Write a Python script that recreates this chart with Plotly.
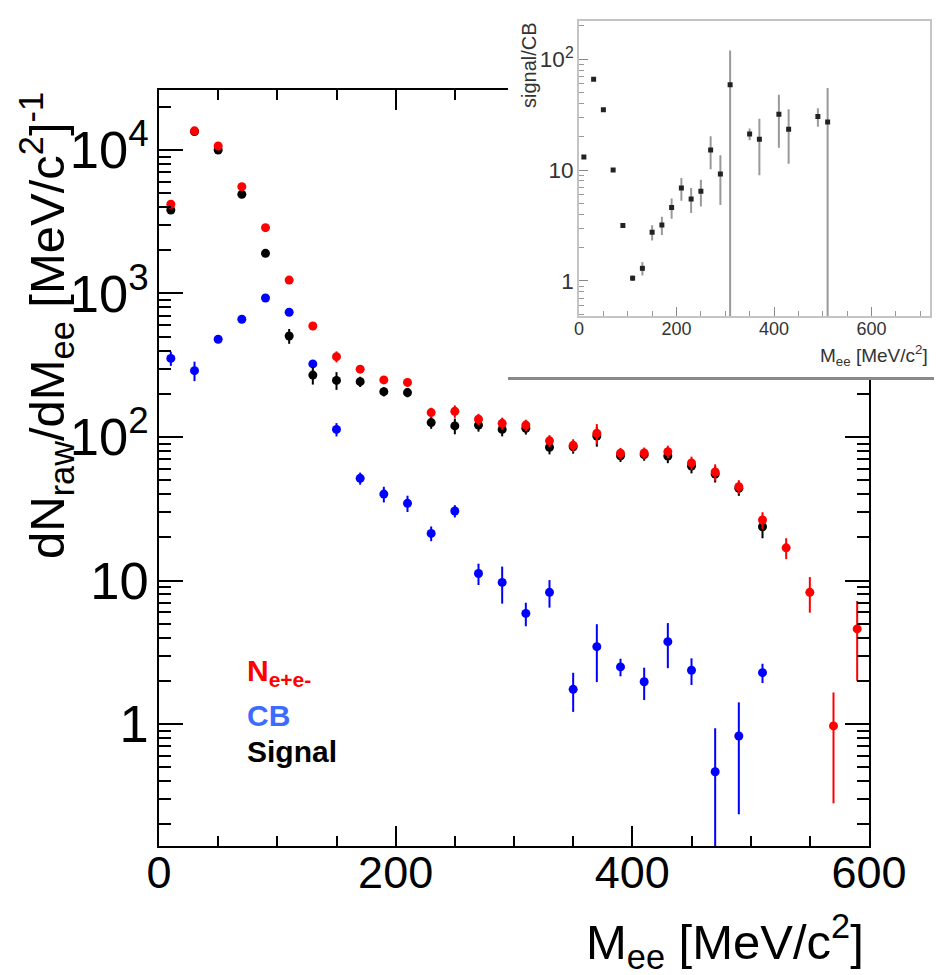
import plotly.graph_objects as go

# page body has an 8px margin, so the figure is drawn 8px in from the window edge
OFF = 8
W, H = 942 - OFF, 975 - OFF

# ---------------- data (main panel) ----------------
mass = [10, 30, 50, 70, 90, 110, 130, 150, 170, 190, 210, 230, 250, 270, 290,
        310, 330, 350, 370, 390, 410, 430, 450, 470, 490, 510, 530, 550, 570, 590]

n_ee = [4190, 13600, 10660, 5550, 2875, 1240, 594, 363, 297, 250, 240, 148, 151, 133, 124.5,
        121, 94, 87.5, 106, 77, 77.4, 79, 66, 57, 45, 26.4, 16.9, 8.27, 0.97, 4.6]
n_ee_err = [60, 120, 100, 75, 55, 35, 25, 32, 18, 16, 16, 12, 15, 12, 12,
            11, 9, 9, 17, 7, 7, 8, 7, 7.5, 5, 3.5, 2.8, 2.3, 0.69, 2.6]

mass_sig = mass[:26]
signal = [3820, 13430, 10000, 4910, 1905, 506, 270, 248, 243, 207, 204, 126, 119.5, 121, 113,
          115, 84.7, 85.5, 101.6, 74, 75.3, 73.7, 62.8, 55.2, 43.9, 23.7]
signal_err = [65, 120, 100, 80, 60, 60, 38, 35, 20, 15, 15, 12, 15, 12, 12,
              11, 9, 9, 16, 7, 7, 8, 7, 7, 5, 4]

mass_cb = mass[:26]
cb = [353, 290, 480, 661, 930, 740, 323, 113, 51.5, 40, 34.5, 21.3, 30.5, 11.2, 9.7,
      5.9, 8.27, 1.745, 3.46, 2.5, 1.97, 3.75, 2.37, 0.465, 0.825, 2.28]
cb_err = [40, 45, 20, 20, 25, 25, 20, 12, 5, 5, 4.5, 2.5, 3, 1.9, 2.8,
          1.1, 1.8, 0.53, 1.5, 0.35, 0.5, 1.3, 0.5, 0.47, 0.59, 0.35]

# ---------------- data (inset: signal/CB) ----------------
mass_ratio = [10, 30, 50, 70, 90, 110, 130, 150, 170, 190, 210, 230, 250, 270, 290,
              310, 350, 370, 410, 430, 490, 510]
ratio = [13.1, 66, 35, 10, 3.16, 1.06, 1.30, 2.75, 3.2, 4.6, 6.9, 5.5, 6.45, 15.2, 9.25,
         59, 21.2, 19, 31.9, 23.4, 30.4, 27.2]
ratio_err = [0.3, 1.5, 0.8, 0.2, 0.08, 0.06, 0.18, 0.43, 0.6, 0.95, 1.6, 1.4, 1.75, 5, 4.4,
             61, 2.6, 10, 16, 12, 5.8, 28]

# ---------------- geometry helpers (window pixels -> paper) ----------------
def px(x):
    return (x - OFF) / W

def py(y):
    return 1 - (y - OFF) / H

def clamp(v):
    return max(0.0, min(1.0, v))

FONT = "Liberation Sans, Arial, sans-serif"

fig = go.Figure()

def main_trace(x, y, e, color):
    return go.Scatter(
        x=x, y=y, mode="markers", xaxis="x", yaxis="y",
        marker=dict(color=color, size=9, line=dict(width=0)),
        error_y=dict(type="data", array=e, color=color, thickness=2, width=0),
        showlegend=False, hoverinfo="x+y")

fig.add_trace(main_trace(mass_cb, cb, cb_err, "#0000ff"))
fig.add_trace(main_trace(mass_sig, signal, signal_err, "#000000"))
fig.add_trace(main_trace(mass, n_ee, n_ee_err, "#ff0000"))

# cover panel (white box hiding the main frame behind the inset)
fig.add_trace(go.Scatter(x=[None], y=[None], xaxis="x2", yaxis="y2",
                         mode="markers", showlegend=False, hoverinfo="skip"))

# inset
fig.add_trace(go.Scatter(
    x=mass_ratio, y=ratio, mode="markers", xaxis="x3", yaxis="y3",
    marker=dict(color="#222222", size=5, symbol="square", line=dict(width=0)),
    error_y=dict(type="data", array=ratio_err, color="#999999", thickness=2, width=0),
    showlegend=False, hoverinfo="x+y"))

layout = dict(
    width=W, height=H,
    margin=dict(l=0, r=0, t=0, b=0, autoexpand=False),
    paper_bgcolor="white", plot_bgcolor="white",
    font=dict(family=FONT, color="black"),
    xaxis=dict(
        domain=[px(159), px(869)], anchor="y", range=[0, 600], automargin=False,
        showline=True, linecolor="black", linewidth=2, mirror="allticks",
        ticks="inside", ticklen=20, tickwidth=2, tickcolor="black",
        tick0=0, dtick=200, ticklabelstandoff=-14,
        minor=dict(ticks="inside", ticklen=10, tickwidth=1.5, tickcolor="black", dtick=50),
        tickfont=dict(family=FONT, size=45, color="black"),
        showgrid=False, zeroline=False),
    yaxis=dict(
        domain=[py(846), py(90)], anchor="x", type="log", range=[-0.850, 4.418],
        automargin=False,
        showline=True, linecolor="black", linewidth=2, mirror="allticks",
        ticks="inside", ticklen=24, tickwidth=2, tickcolor="black",
        dtick=1, exponentformat="power",
        minor=dict(ticks="inside", ticklen=12, tickwidth=1.5, tickcolor="black", dtick="D1"),
        tickfont=dict(family=FONT, size=42, color="black"),
        showgrid=False, zeroline=False),
    xaxis2=dict(
        domain=[px(508), 1.0], anchor="y2", range=[0, 1], automargin=False,
        showline=True, linecolor="#8a8a8a", linewidth=3, mirror=False,
        ticks="", showticklabels=False, showgrid=False, zeroline=False),
    yaxis2=dict(
        domain=[py(377), 1.0], anchor="x2", range=[0, 1], automargin=False,
        showline=False, ticks="", showticklabels=False, showgrid=False, zeroline=False),
    xaxis3=dict(
        domain=[px(579), px(930)], anchor="y3", range=[0, 720], automargin=False,
        showline=True, linecolor="#c4c4c4", linewidth=1.5, mirror=True,
        ticks="inside", ticklen=9, tickwidth=1.2, tickcolor="#888888",
        tick0=0, dtick=200, ticklabelstandoff=-4,
        minor=dict(ticks="inside", ticklen=5, tickwidth=1, tickcolor="#999999", dtick=50),
        tickfont=dict(family=FONT, size=18, color="#333333"),
        showgrid=False, zeroline=False),
    yaxis3=dict(
        domain=[py(316), py(20.7)], anchor="x3", type="log", range=[-0.316, 2.348],
        automargin=False,
        showline=True, linecolor="#c4c4c4", linewidth=1.5, mirror=True,
        ticks="inside", ticklen=9, tickwidth=1.2, tickcolor="#888888",
        dtick=1, exponentformat="power",
        minor=dict(ticks="inside", ticklen=5, tickwidth=1, tickcolor="#999999", dtick="D1"),
        tickfont=dict(family=FONT, size=18, color="#333333"),
        showgrid=False, zeroline=False),
)
fig.update_layout(**layout)

ann = []
# main axis titles
ann.append(dict(text="M<sub>ee</sub> [MeV/c<sup>2</sup>]", xref="paper", yref="paper",
                x=px(866), y=py(941), xanchor="right", yanchor="middle", showarrow=False,
                font=dict(family=FONT, size=49, color="black")))
ann.append(dict(text="dN<sub>raw</sub>/dM<sub>ee</sub> [MeV/c<sup>2</sup>]<sup>-1</sup>",
                xref="paper", yref="paper", x=px(46), y=py(326), textangle=-90,
                xanchor="center", yanchor="middle", showarrow=False,
                font=dict(family=FONT, size=49, color="black")))
# legend texts
ann.append(dict(text="<b>N<sub>e+e-</sub></b>", xref="paper", yref="paper",
                x=px(245), y=py(672), xanchor="left", yanchor="middle", showarrow=False,
                font=dict(family=FONT, size=30, color="#ff0000")))
ann.append(dict(text="<b>CB</b>", xref="paper", yref="paper",
                x=px(245), y=py(715), xanchor="left", yanchor="middle", showarrow=False,
                font=dict(family=FONT, size=30, color="#3c6cff")))
ann.append(dict(text="<b>Signal</b>", xref="paper", yref="paper",
                x=px(245), y=py(751), xanchor="left", yanchor="middle", showarrow=False,
                font=dict(family=FONT, size=30, color="black")))
# inset titles
ann.append(dict(text="signal/CB", xref="paper", yref="paper",
                x=px(529), y=clamp(py(20)), textangle=-90, xanchor="center", yanchor="top",
                showarrow=False, font=dict(family=FONT, size=20, color="#333333")))
ann.append(dict(text="M<sub>ee</sub> [MeV/c<sup>2</sup>]", xref="paper", yref="paper",
                x=px(930), y=py(355), xanchor="right", yanchor="middle", showarrow=False,
                font=dict(family=FONT, size=19, color="#333333")))
fig.update_layout(annotations=ann)

fig.write_html("out.html")
